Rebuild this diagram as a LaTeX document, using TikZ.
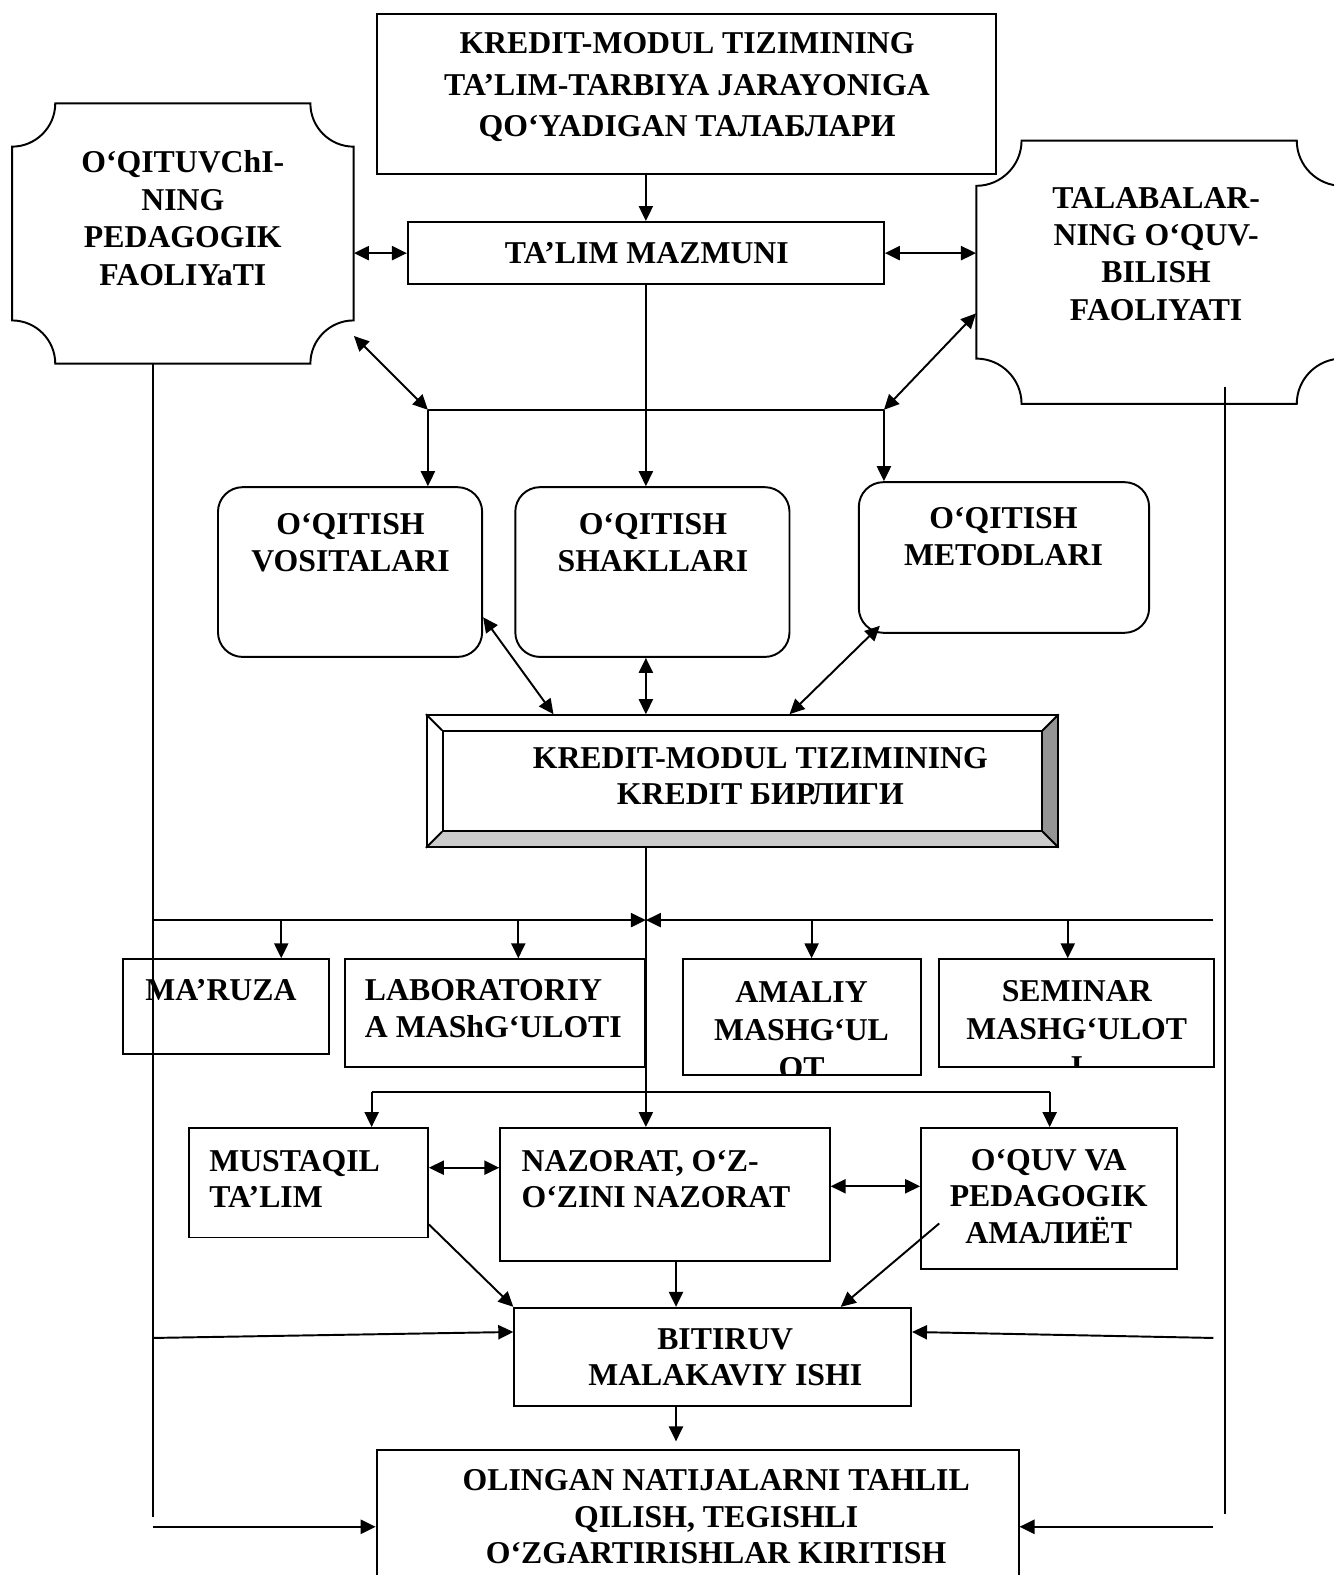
\documentclass[tikz,border=0pt]{standalone}
\usepackage{fontspec}
\setmainfont{Liberation Serif}
\usetikzlibrary{arrows.meta}
\usetikzlibrary{calc}
\usetikzlibrary{fit}

\newcommand{\plaque}[5]{%
\draw[frame] (#1+#5,#2) -- (#3-#5,#2)
  .. controls (#3-#5,#2+0.55*#5) and (#3-0.55*#5,#2+#5) .. (#3,#2+#5)
  -- (#3,#4-#5)
  .. controls (#3-0.55*#5,#4-#5) and (#3-#5,#4-0.55*#5) .. (#3-#5,#4)
  -- (#1+#5,#4)
  .. controls (#1+#5,#4-0.55*#5) and (#1+0.55*#5,#4-#5) .. (#1,#4-#5)
  -- (#1,#2+#5)
  .. controls (#1+0.55*#5,#2+#5) and (#1+#5,#2+0.55*#5) .. cycle;}

\begin{document}
\begin{tikzpicture}[
x=0.02cm, y=-0.02cm,
frame/.style={line width=1.1pt},
box/.style={draw, frame, inner sep=0pt},
rbox/.style={box, rounded corners=14pt},
lbl/.style={font=\bfseries\fontsize{18}{#1}\selectfont, align=center, inner sep=0pt},
lbl/.default=21,
vector/.style={-{Triangle[length=8.5pt, width=8pt]}, line width=1.1pt},
dvector/.style={{Triangle[length=8.5pt, width=8pt]}-{Triangle[length=8.5pt, width=8pt]}, line width=1.1pt}
]
\fill[white] (0,0) rectangle (1328,1568);
\useasboundingbox (0,0) rectangle (1328,1568);

\node[box, fit={(375,14) (992,173)}] (req) {};
\node[lbl=23.5] (reqtxt) at (684,87) {KREDIT-MODUL TIZIMINING\\TA’LIM-TARBIYA JARAYONIGA\\QO‘YADIGAN ТАЛАБЛАРИ};

\node[box, fit={(406,221) (880,283)}] (cont) {};
\node[lbl] (conttxt) at (644,252) {TA’LIM MAZMUNI};

\plaque{12}{103}{352}{362}{43}
\node[fit={(12,103) (352,362)}, inner sep=0pt] (tch) {};
\node[lbl=21.3] (tchtxt) at (182,217) {O‘QITUVChI-\\NING\\PEDAGOGIK\\FAOLIYaTI};

\plaque{972}{140}{1336}{402}{45}
\node[fit={(972,140) (1336,402)}, inner sep=0pt] (stu) {};
\node[lbl=21] (stutxt) at (1151,253) {TALABALAR-\\NING O‘QUV-\\BILISH\\FAOLIYATI};

\node[rbox, fit={(217,485) (480,654)}] (vos) {};
\node[lbl] (vostxt) at (349,540) {O‘QITISH\\VOSITALARI};
\node[rbox, fit={(513,485) (786,654)}] (shak) {};
\node[lbl] (shaktxt) at (650,540) {O‘QITISH\\SHAKLLARI};
\node[rbox, fit={(855,480) (1144,630)}] (met) {};
\node[lbl] (mettxt) at (999,534) {O‘QITISH\\METODLARI};

% bevelled box
\fill[black!20] (425,843) -- (1053,843) -- (1037,827) -- (441,827) -- cycle;
\fill[black!42] (1053,712) -- (1053,843) -- (1037,827) -- (1037,728) -- cycle;
\node[box, fit={(425,712) (1053,843)}] (bev) {};
\node[box, fit={(441,728) (1037,827)}] (bevin) {};
\draw[frame] (bev.north west) -- (bevin.north west);
\draw[frame] (bev.north east) -- (bevin.north east);
\draw[frame] (bev.south west) -- (bevin.south west);
\draw[frame] (bev.south east) -- (bevin.south east);
\node[lbl=20.4] (bevtxt) at (757,773) {KREDIT-MODUL TIZIMINING\\KREDIT БИРЛИГИ};

\node[box, fit={(122,955) (328,1049)}] (mar) {};
\node[lbl] (martxt) at (220,986) {MA’RUZA};
\node[box, fit={(343,955) (642,1062)}] (lab) {};
\node[lbl=20.8, align=left, anchor=west] (labtxt) at (363,1004) {LABORATORIY\\A MAShG‘ULOTI};
\node[box, fit={(680,955) (917,1070)}] (ama) {};
\begin{scope}
\clip (ama.north west) rectangle (ama.south east);
\node[lbl=21.5] (amatxt) at (798,1026) {AMALIY\\MASHG‘UL\\OT};
\end{scope}
\node[box, fit={(935,955) (1209,1062)}] (sem) {};
\begin{scope}
\clip (sem.north west) rectangle (sem.south east);
\node[lbl=21.5] (semtxt) at (1072,1024) {SEMINAR\\MASHG‘ULOT\\I};
\end{scope}

\node[box, fit={(188,1123) (426,1232)}] (must) {};
\node[lbl=20.4, align=left, anchor=west] (musttxt) at (208,1174) {MUSTAQIL\\TA’LIM};
\node[box, fit={(498,1123) (826,1255)}] (naz) {};
\node[lbl=20.4, align=left, anchor=west] (naztxt) at (519,1174) {NAZORAT, O‘Z-\\O‘ZINI NAZORAT};
\node[box, fit={(917,1123) (1172,1263)}] (oquv) {};
\node[lbl=20.8] (oquvtxt) at (1044,1191) {O‘QUV VA\\PEDAGOGIK\\АМАЛИЁТ};

\node[box, fit={(512,1302) (907,1400)}] (bit) {};
\node[lbl=20.4] (bittxt) at (722,1351) {BITIRUV\\MALAKAVIY ISHI};
\node[box, fit={(375,1444) (1014,1620)}] (res) {};
\node[lbl=20.7] (restxt) at (713,1510) {OLINGAN NATIJALARNI TAHLIL\\QILISH, TEGISHLI\\O‘ZGARTIRISHLAR KIRITISH};

\coordinate (jL) at (426,408);
\coordinate (jR) at (880,408);
\coordinate (hL) at (152,916);
\coordinate (hR) at (1208,916);
\coordinate (gL) at (370,1087);
\coordinate (gR) at (1045,1087);
\coordinate (vL1) at (152,362);
\coordinate (vL2) at (152,1510);
\coordinate (vR1) at (1220,385);
\coordinate (vR2) at (1220,1507);
\coordinate (bL) at (152,1332);
\coordinate (bR) at (1208,1332);
\coordinate (rL) at (152,1520);
\coordinate (rR) at (1208,1520);

\draw[frame] (vL1) -- (vL2);
\draw[frame] (vR1) -- (vR2);

\draw[vector] (cont.north |- req.south) -- (cont.north);
\draw[dvector] (cont.west -| tch.east) -- (cont.west);
\draw[dvector] (cont.east) -- (cont.east -| stu.west);
\draw[dvector] ($(tch.east)+(0,102)$) -- (jL);
\draw[dvector] ($(stu.west)+(0,41)$) -- (jR);
\draw[frame] (jL) -- (jR);
\draw[vector] (jL) -- (jL |- vos.north);
\draw[vector] (jR) -- (jR |- met.north);
\draw[vector] (cont.south) -- (cont.south |- shak.north);

\draw[dvector] ($(vos.east)+(0,45)$) -- ($(bev.north west)+(127,0)$);
\draw[dvector] (shak.south -| cont.south) -- (bev.north -| cont.south);
\draw[dvector] ($(met.south west)+(22,-8)$) -- ($(bev.north west)+(362,0)$);
\draw[vector] (bev.south -| cont.south) -- (naz.north -| cont.south);

\draw[vector] (hL) -- (hL -| cont.south);
\draw[vector] (hR) -- (hR -| cont.south);
\foreach \n/\x in {mar/280, lab/516, ama/808, sem/1063}
  \draw[vector] (\x,916) -- (\n.north -| \x,916);

\draw[frame] (gL) -- (gR);
\draw[vector] (gL) -- (gL |- must.north);
\draw[vector] (gR) -- (gR |- oquv.north);
\coordinate (mn) at ($(must.east)+(0,-15)$);
\coordinate (no) at ($(naz.east)+(0,-8)$);
\coordinate (nb) at ($(naz.south)+(11,0)$);
\draw[dvector] (mn) -- (mn -| naz.west);
\draw[dvector] (no) -- (no -| oquv.west);

\draw[vector] ($(must.south east)+(0,-14)$) -- (bit.north west);
\draw[vector] (nb) -- (nb |- bit.north);
\draw[vector] ($(oquv.west)+(19,25)$) -- ($(bit.north east)+(-71,0)$);
\draw[vector] (bL) -- ($(bit.north west)+(0,25)$);
\draw[vector] (bR) -- ($(bit.north east)+(0,25)$);
\draw[vector] (nb |- bit.south) -- ($(nb |- bit.south)+(0,34)$);
\draw[vector] (rL) -- (rL -| res.west);
\draw[vector] (rR) -- (rR -| res.east);
\end{tikzpicture}
\end{document}
